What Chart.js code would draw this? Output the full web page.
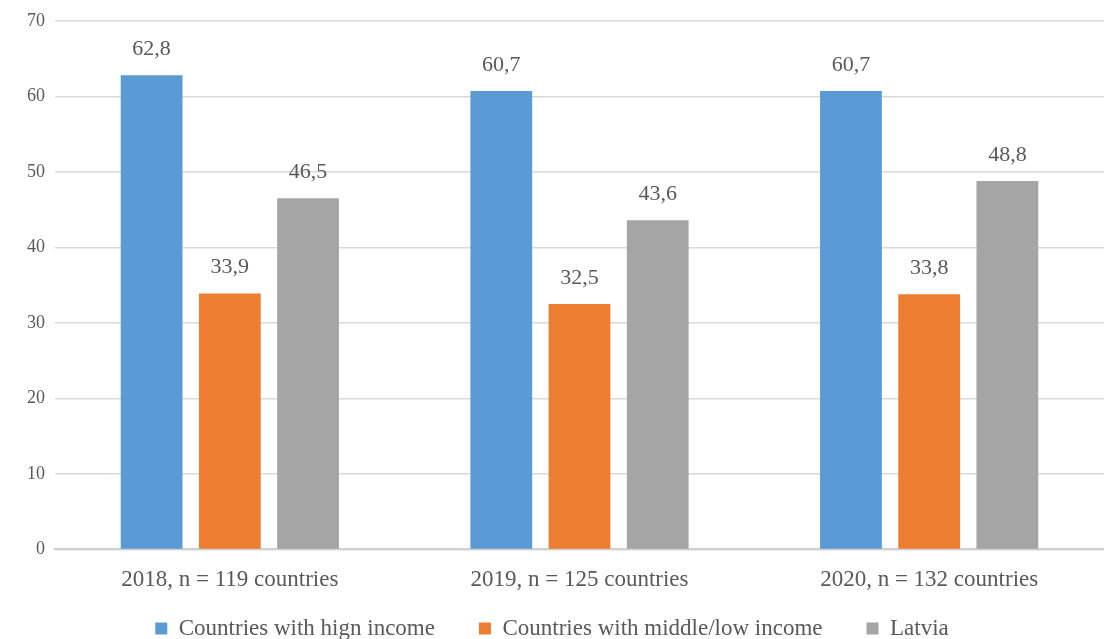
<!DOCTYPE html>
<html>
<head>
<meta charset="utf-8">
<script src="https://cdn.jsdelivr.net/npm/chart.js@4/dist/chart.umd.min.js"></script>
<style>
  html, body { margin: 0; padding: 0; background: #fff; overflow: hidden; }
  #wrap { width: 1104px; height: 688px; }
</style>
</head>
<body>
<div id="wrap"><canvas id="myChart" width="1104" height="688"></canvas></div>
<script>
'use strict';

let categories = ['2018, n = 119 countries', '2019, n = 125 countries', '2020, n = 132 countries'];
let highIncome = [62.8, 60.7, 60.7];
let middleLowIncome = [33.9, 32.5, 33.8];
let latvia = [46.5, 43.6, 48.8];
let seriesNames = ['Countries with hign income', 'Countries with middle/low income', 'Latvia'];

let textColor = '#595959';
let fontFamily = '"Liberation Serif", "Times New Roman", serif';

// draws the value above each bar, with a comma as decimal mark
let valueLabels = {
  id: 'valueLabels',
  afterDatasetsDraw(chart) {
    let ctx = chart.ctx;
    ctx.save();
    ctx.font = '22px ' + fontFamily;
    ctx.fillStyle = textColor;
    ctx.textAlign = 'center';
    ctx.textBaseline = 'middle';
    chart.data.datasets.forEach((ds, i) => {
      let meta = chart.getDatasetMeta(i);
      meta.data.forEach((bar, j) => {
        let txt = ds.data[j].toFixed(1).replace('.', ',');
        ctx.fillText(txt, bar.x, bar.y - 26);
      });
    });
    ctx.restore();
  }
};

// pulls the legend a bit closer to the axis labels
let legendShift = {
  id: 'legendShift',
  afterLayout(chart) {
    if (chart.legend) {
      chart.legend.top -= 38;
      chart.legend.bottom -= 38;
    }
  }
};

let ctx = document.getElementById('myChart').getContext('2d');

new Chart(ctx, {
  type: 'bar',
  data: {
    labels: categories,
    datasets: [{
      label: seriesNames[0],
      data: highIncome,
      backgroundColor: '#5b9bd5'
    },
    {
      label: seriesNames[1],
      data: middleLowIncome,
      backgroundColor: '#ed7d31'
    },
    {
      label: seriesNames[2],
      data: latvia,
      backgroundColor: '#a5a5a5'
    }]
  },
  plugins: [valueLabels, legendShift],
  options: {
    responsive: false,
    animation: false,
    categoryPercentage: 0.671,
    barPercentage: 0.79,
    layout: { padding: { top: 18, right: 0, left: 0, bottom: 0 } },
    plugins: {
      tooltip: { enabled: false },
      legend: {
        position: 'bottom',
        labels: {
          boxWidth: 12,
          boxHeight: 12,
          padding: 44,
          color: textColor,
          font: { family: fontFamily, size: 23 }
        }
      }
    },
    scales: {
      x: {
        grid: { display: false, drawTicks: false },
        border: { color: '#d0d0d0', width: 2 },
        ticks: {
          color: textColor,
          padding: 17,
          font: { family: fontFamily, size: 23 }
        }
      },
      y: {
        min: 0,
        max: 70,
        grid: { color: '#d9d9d9', lineWidth: 1.5, drawTicks: false },
        border: { display: false },
        ticks: {
          stepSize: 10,
          color: textColor,
          padding: 10,
          font: { family: fontFamily, size: 18 }
        },
        afterFit(axis) { axis.width = 55; }
      }
    }
  }
});
</script>
</body>
</html>
